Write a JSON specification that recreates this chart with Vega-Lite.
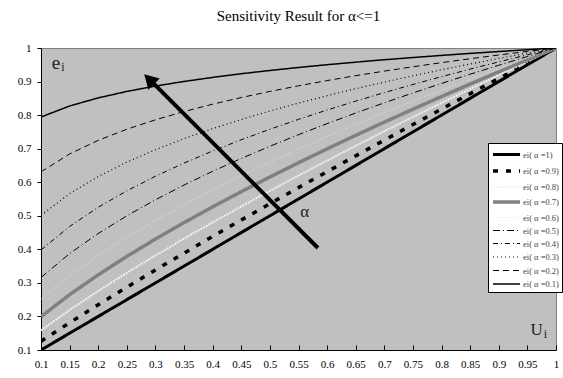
{
  "$schema": "https://vega.github.io/schema/vega-lite/v6.json",
  "width": 515,
  "height": 302,
  "autosize": {"type": "none"},
  "padding": {"left": 41, "top": 48, "right": 7, "bottom": 28},
  "background": "white",
  "title": {"text": "Sensitivity Result for α<=1", "font": "Liberation Serif", "fontSize": 15, "fontWeight": "normal", "color": "black", "offset": 18},
  "config": {
    "view": {"fill": "#c0c0c0", "stroke": "#808080"},
    "font": "Liberation Serif"
  },
  "datasets": {
    "curves": [
      {"x":0.1,"s":"ei( α =1)","y":0.1},{"x":0.15,"s":"ei( α =1)","y":0.15},{"x":0.2,"s":"ei( α =1)","y":0.2},{"x":0.25,"s":"ei( α =1)","y":0.25},{"x":0.3,"s":"ei( α =1)","y":0.3},{"x":0.35,"s":"ei( α =1)","y":0.35},{"x":0.4,"s":"ei( α =1)","y":0.4},{"x":0.45,"s":"ei( α =1)","y":0.45},{"x":0.5,"s":"ei( α =1)","y":0.5},{"x":0.55,"s":"ei( α =1)","y":0.55},{"x":0.6,"s":"ei( α =1)","y":0.6},{"x":0.65,"s":"ei( α =1)","y":0.65},{"x":0.7,"s":"ei( α =1)","y":0.7},{"x":0.75,"s":"ei( α =1)","y":0.75},{"x":0.8,"s":"ei( α =1)","y":0.8},{"x":0.85,"s":"ei( α =1)","y":0.85},{"x":0.9,"s":"ei( α =1)","y":0.9},{"x":0.95,"s":"ei( α =1)","y":0.95},{"x":1,"s":"ei( α =1)","y":1},
      {"x":0.1,"s":"ei( α =0.9)","y":0.1259},{"x":0.15,"s":"ei( α =0.9)","y":0.1813},{"x":0.2,"s":"ei( α =0.9)","y":0.2349},{"x":0.25,"s":"ei( α =0.9)","y":0.2872},{"x":0.3,"s":"ei( α =0.9)","y":0.3384},{"x":0.35,"s":"ei( α =0.9)","y":0.3887},{"x":0.4,"s":"ei( α =0.9)","y":0.4384},{"x":0.45,"s":"ei( α =0.9)","y":0.4874},{"x":0.5,"s":"ei( α =0.9)","y":0.5359},{"x":0.55,"s":"ei( α =0.9)","y":0.5839},{"x":0.6,"s":"ei( α =0.9)","y":0.6314},{"x":0.65,"s":"ei( α =0.9)","y":0.6786},{"x":0.7,"s":"ei( α =0.9)","y":0.7254},{"x":0.75,"s":"ei( α =0.9)","y":0.7719},{"x":0.8,"s":"ei( α =0.9)","y":0.8181},{"x":0.85,"s":"ei( α =0.9)","y":0.8639},{"x":0.9,"s":"ei( α =0.9)","y":0.9095},{"x":0.95,"s":"ei( α =0.9)","y":0.9549},{"x":1,"s":"ei( α =0.9)","y":1},
      {"x":0.1,"s":"ei( α =0.8)","y":0.1585},{"x":0.15,"s":"ei( α =0.8)","y":0.2192},{"x":0.2,"s":"ei( α =0.8)","y":0.2759},{"x":0.25,"s":"ei( α =0.8)","y":0.3299},{"x":0.3,"s":"ei( α =0.8)","y":0.3817},{"x":0.35,"s":"ei( α =0.8)","y":0.4318},{"x":0.4,"s":"ei( α =0.8)","y":0.4804},{"x":0.45,"s":"ei( α =0.8)","y":0.5279},{"x":0.5,"s":"ei( α =0.8)","y":0.5743},{"x":0.55,"s":"ei( α =0.8)","y":0.6199},{"x":0.6,"s":"ei( α =0.8)","y":0.6645},{"x":0.65,"s":"ei( α =0.8)","y":0.7085},{"x":0.7,"s":"ei( α =0.8)","y":0.7518},{"x":0.75,"s":"ei( α =0.8)","y":0.7944},{"x":0.8,"s":"ei( α =0.8)","y":0.8365},{"x":0.85,"s":"ei( α =0.8)","y":0.8781},{"x":0.9,"s":"ei( α =0.8)","y":0.9192},{"x":0.95,"s":"ei( α =0.8)","y":0.9598},{"x":1,"s":"ei( α =0.8)","y":1},
      {"x":0.1,"s":"ei( α =0.7)","y":0.1995},{"x":0.15,"s":"ei( α =0.7)","y":0.265},{"x":0.2,"s":"ei( α =0.7)","y":0.3241},{"x":0.25,"s":"ei( α =0.7)","y":0.3789},{"x":0.3,"s":"ei( α =0.7)","y":0.4305},{"x":0.35,"s":"ei( α =0.7)","y":0.4796},{"x":0.4,"s":"ei( α =0.7)","y":0.5266},{"x":0.45,"s":"ei( α =0.7)","y":0.5718},{"x":0.5,"s":"ei( α =0.7)","y":0.6156},{"x":0.55,"s":"ei( α =0.7)","y":0.658},{"x":0.6,"s":"ei( α =0.7)","y":0.6994},{"x":0.65,"s":"ei( α =0.7)","y":0.7397},{"x":0.7,"s":"ei( α =0.7)","y":0.7791},{"x":0.75,"s":"ei( α =0.7)","y":0.8176},{"x":0.8,"s":"ei( α =0.7)","y":0.8554},{"x":0.85,"s":"ei( α =0.7)","y":0.8925},{"x":0.9,"s":"ei( α =0.7)","y":0.9289},{"x":0.95,"s":"ei( α =0.7)","y":0.9647},{"x":1,"s":"ei( α =0.7)","y":1},
      {"x":0.1,"s":"ei( α =0.6)","y":0.2512},{"x":0.15,"s":"ei( α =0.6)","y":0.3204},{"x":0.2,"s":"ei( α =0.6)","y":0.3807},{"x":0.25,"s":"ei( α =0.6)","y":0.4353},{"x":0.3,"s":"ei( α =0.6)","y":0.4856},{"x":0.35,"s":"ei( α =0.6)","y":0.5327},{"x":0.4,"s":"ei( α =0.6)","y":0.5771},{"x":0.45,"s":"ei( α =0.6)","y":0.6194},{"x":0.5,"s":"ei( α =0.6)","y":0.6598},{"x":0.55,"s":"ei( α =0.6)","y":0.6986},{"x":0.6,"s":"ei( α =0.6)","y":0.736},{"x":0.65,"s":"ei( α =0.6)","y":0.7722},{"x":0.7,"s":"ei( α =0.6)","y":0.8073},{"x":0.75,"s":"ei( α =0.6)","y":0.8415},{"x":0.8,"s":"ei( α =0.6)","y":0.8747},{"x":0.85,"s":"ei( α =0.6)","y":0.9071},{"x":0.9,"s":"ei( α =0.6)","y":0.9387},{"x":0.95,"s":"ei( α =0.6)","y":0.9697},{"x":1,"s":"ei( α =0.6)","y":1},
      {"x":0.1,"s":"ei( α =0.5)","y":0.3162},{"x":0.15,"s":"ei( α =0.5)","y":0.3873},{"x":0.2,"s":"ei( α =0.5)","y":0.4472},{"x":0.25,"s":"ei( α =0.5)","y":0.5},{"x":0.3,"s":"ei( α =0.5)","y":0.5477},{"x":0.35,"s":"ei( α =0.5)","y":0.5916},{"x":0.4,"s":"ei( α =0.5)","y":0.6325},{"x":0.45,"s":"ei( α =0.5)","y":0.6708},{"x":0.5,"s":"ei( α =0.5)","y":0.7071},{"x":0.55,"s":"ei( α =0.5)","y":0.7416},{"x":0.6,"s":"ei( α =0.5)","y":0.7746},{"x":0.65,"s":"ei( α =0.5)","y":0.8062},{"x":0.7,"s":"ei( α =0.5)","y":0.8367},{"x":0.75,"s":"ei( α =0.5)","y":0.866},{"x":0.8,"s":"ei( α =0.5)","y":0.8944},{"x":0.85,"s":"ei( α =0.5)","y":0.922},{"x":0.9,"s":"ei( α =0.5)","y":0.9487},{"x":0.95,"s":"ei( α =0.5)","y":0.9747},{"x":1,"s":"ei( α =0.5)","y":1},
      {"x":0.1,"s":"ei( α =0.4)","y":0.3981},{"x":0.15,"s":"ei( α =0.4)","y":0.4682},{"x":0.2,"s":"ei( α =0.4)","y":0.5253},{"x":0.25,"s":"ei( α =0.4)","y":0.5743},{"x":0.3,"s":"ei( α =0.4)","y":0.6178},{"x":0.35,"s":"ei( α =0.4)","y":0.6571},{"x":0.4,"s":"ei( α =0.4)","y":0.6931},{"x":0.45,"s":"ei( α =0.4)","y":0.7266},{"x":0.5,"s":"ei( α =0.4)","y":0.7579},{"x":0.55,"s":"ei( α =0.4)","y":0.7873},{"x":0.6,"s":"ei( α =0.4)","y":0.8152},{"x":0.65,"s":"ei( α =0.4)","y":0.8417},{"x":0.7,"s":"ei( α =0.4)","y":0.867},{"x":0.75,"s":"ei( α =0.4)","y":0.8913},{"x":0.8,"s":"ei( α =0.4)","y":0.9146},{"x":0.85,"s":"ei( α =0.4)","y":0.9371},{"x":0.9,"s":"ei( α =0.4)","y":0.9587},{"x":0.95,"s":"ei( α =0.4)","y":0.9797},{"x":1,"s":"ei( α =0.4)","y":1},
      {"x":0.1,"s":"ei( α =0.3)","y":0.5012},{"x":0.15,"s":"ei( α =0.3)","y":0.566},{"x":0.2,"s":"ei( α =0.3)","y":0.617},{"x":0.25,"s":"ei( α =0.3)","y":0.6598},{"x":0.3,"s":"ei( α =0.3)","y":0.6968},{"x":0.35,"s":"ei( α =0.3)","y":0.7298},{"x":0.4,"s":"ei( α =0.3)","y":0.7597},{"x":0.45,"s":"ei( α =0.3)","y":0.787},{"x":0.5,"s":"ei( α =0.3)","y":0.8123},{"x":0.55,"s":"ei( α =0.3)","y":0.8358},{"x":0.6,"s":"ei( α =0.3)","y":0.8579},{"x":0.65,"s":"ei( α =0.3)","y":0.8788},{"x":0.7,"s":"ei( α =0.3)","y":0.8985},{"x":0.75,"s":"ei( α =0.3)","y":0.9173},{"x":0.8,"s":"ei( α =0.3)","y":0.9352},{"x":0.85,"s":"ei( α =0.3)","y":0.9524},{"x":0.9,"s":"ei( α =0.3)","y":0.9689},{"x":0.95,"s":"ei( α =0.3)","y":0.9847},{"x":1,"s":"ei( α =0.3)","y":1},
      {"x":0.1,"s":"ei( α =0.2)","y":0.631},{"x":0.15,"s":"ei( α =0.2)","y":0.6842},{"x":0.2,"s":"ei( α =0.2)","y":0.7248},{"x":0.25,"s":"ei( α =0.2)","y":0.7579},{"x":0.3,"s":"ei( α =0.2)","y":0.786},{"x":0.35,"s":"ei( α =0.2)","y":0.8106},{"x":0.4,"s":"ei( α =0.2)","y":0.8326},{"x":0.45,"s":"ei( α =0.2)","y":0.8524},{"x":0.5,"s":"ei( α =0.2)","y":0.8706},{"x":0.55,"s":"ei( α =0.2)","y":0.8873},{"x":0.6,"s":"ei( α =0.2)","y":0.9029},{"x":0.65,"s":"ei( α =0.2)","y":0.9175},{"x":0.7,"s":"ei( α =0.2)","y":0.9311},{"x":0.75,"s":"ei( α =0.2)","y":0.9441},{"x":0.8,"s":"ei( α =0.2)","y":0.9564},{"x":0.85,"s":"ei( α =0.2)","y":0.968},{"x":0.9,"s":"ei( α =0.2)","y":0.9791},{"x":0.95,"s":"ei( α =0.2)","y":0.9898},{"x":1,"s":"ei( α =0.2)","y":1},
      {"x":0.1,"s":"ei( α =0.1)","y":0.7943},{"x":0.15,"s":"ei( α =0.1)","y":0.8272},{"x":0.2,"s":"ei( α =0.1)","y":0.8513},{"x":0.25,"s":"ei( α =0.1)","y":0.8706},{"x":0.3,"s":"ei( α =0.1)","y":0.8866},{"x":0.35,"s":"ei( α =0.1)","y":0.9003},{"x":0.4,"s":"ei( α =0.1)","y":0.9124},{"x":0.45,"s":"ei( α =0.1)","y":0.9233},{"x":0.5,"s":"ei( α =0.1)","y":0.933},{"x":0.55,"s":"ei( α =0.1)","y":0.942},{"x":0.6,"s":"ei( α =0.1)","y":0.9502},{"x":0.65,"s":"ei( α =0.1)","y":0.9578},{"x":0.7,"s":"ei( α =0.1)","y":0.965},{"x":0.75,"s":"ei( α =0.1)","y":0.9716},{"x":0.8,"s":"ei( α =0.1)","y":0.9779},{"x":0.85,"s":"ei( α =0.1)","y":0.9839},{"x":0.9,"s":"ei( α =0.1)","y":0.9895},{"x":0.95,"s":"ei( α =0.1)","y":0.9949},{"x":1,"s":"ei( α =0.1)","y":1}
    ],
    "arrow": [{"x": 0.584, "y": 0.404, "x2": 0.294, "y2": 0.899}],
    "head": [{"x": 0.289, "y": 0.907}],
    "labels": [
      {"x": 0.126, "y": 0.955, "t": "e", "size": 19},
      {"x": 0.561, "y": 0.511, "t": "α", "size": 17},
      {"x": 0.966, "y": 0.16, "t": "U", "size": 17}
    ],
    "subs": [
      {"x": 0.1385, "y": 0.944, "t": "i"},
      {"x": 0.9815, "y": 0.149, "t": "i"}
    ]
  },
  "encoding": {
    "x": {"field": "x", "type": "quantitative", "scale": {"domain": [0.1, 1], "nice": false, "zero": false},
      "axis": {"title": null, "values": [0.1,0.15,0.2,0.25,0.3,0.35,0.4,0.45,0.5,0.55,0.6,0.65,0.7,0.75,0.8,0.85,0.9,0.95,1], "format": "~g", "grid": false, "domainColor": "black", "tickColor": "black", "tickSize": -5, "labelPadding": 13, "labelFont": "Liberation Serif", "labelFontSize": 11, "labelColor": "black", "labelFlush": false, "labelOverlap": false}},
    "y": {"field": "y", "type": "quantitative", "scale": {"domain": [0.1, 1], "nice": false, "zero": false},
      "axis": {"title": null, "values": [0.1,0.2,0.3,0.4,0.5,0.6,0.7,0.8,0.9,1], "format": "~g", "grid": false, "domainColor": "black", "tickColor": "black", "tickSize": 4, "labelPadding": 6, "labelFont": "Liberation Serif", "labelFontSize": 11, "labelColor": "black", "labelFlush": false, "labelOverlap": false}}
  },
  "layer": [
    {
      "data": {"name": "curves"},
      "mark": {"type": "line", "clip": true},
      "encoding": {
        "color": {"field": "s", "type": "nominal",
          "scale": {"domain": ["ei( α =1)","ei( α =0.9)","ei( α =0.8)","ei( α =0.7)","ei( α =0.6)","ei( α =0.5)","ei( α =0.4)","ei( α =0.3)","ei( α =0.2)","ei( α =0.1)"],
            "range": ["#000000","#000000","#f2f2f2","#808080","#e6e6e6","#000000","#000000","#000000","#000000","#000000"]},
          "legend": {"title": null, "orient": "none", "legendX": 447, "legendY": 95, "fillColor": "white", "strokeColor": "black", "padding": 3, "symbolType": "M-1,0H2.86", "symbolSize": 196, "labelFont": "Liberation Serif", "labelFontSize": 8.5, "labelColor": "#444444", "rowPadding": 1, "labelOffset": 14, "labelLimit": 60}},
        "strokeDash": {"field": "s", "type": "nominal",
          "scale": {"domain": ["ei( α =1)","ei( α =0.9)","ei( α =0.8)","ei( α =0.7)","ei( α =0.6)","ei( α =0.5)","ei( α =0.4)","ei( α =0.3)","ei( α =0.2)","ei( α =0.1)"],
            "range": [[1,0],[5,8],[2,1],[1,0],[1,2],[7,3,1,3],[5,3,1,3],[1,3],[6,4],[1,0]]},
          "legend": {"title": null}},
        "strokeWidth": {"field": "s", "type": "nominal",
          "scale": {"type": "ordinal", "domain": ["ei( α =1)","ei( α =0.9)","ei( α =0.8)","ei( α =0.7)","ei( α =0.6)","ei( α =0.5)","ei( α =0.4)","ei( α =0.3)","ei( α =0.2)","ei( α =0.1)"],
            "range": [3, 3.5, 2, 3.5, 1, 1, 1, 1.2, 1, 1.5]},
          "legend": {"title": null}}
      }
    },
    {
      "data": {"name": "arrow"},
      "mark": {"type": "rule", "color": "black", "strokeWidth": 4},
      "encoding": {
        "x2": {"field": "x2"},
        "y2": {"field": "y2"}
      }
    },
    {
      "data": {"name": "head"},
      "mark": {"type": "point", "shape": "triangle-up", "filled": true, "color": "black", "opacity": 1, "size": 260, "angle": 315}
    },
    {
      "data": {"name": "labels"},
      "mark": {"type": "text", "font": "Liberation Serif", "color": "#222222", "align": "center", "baseline": "middle"},
      "encoding": {
        "text": {"field": "t"},
        "size": {"field": "size", "type": "quantitative", "scale": null, "legend": null}
      }
    },
    {
      "data": {"name": "subs"},
      "mark": {"type": "text", "font": "Liberation Serif", "color": "#222222", "align": "center", "baseline": "middle", "fontSize": 12},
      "encoding": {
        "text": {"field": "t"}
      }
    }
  ]
}
